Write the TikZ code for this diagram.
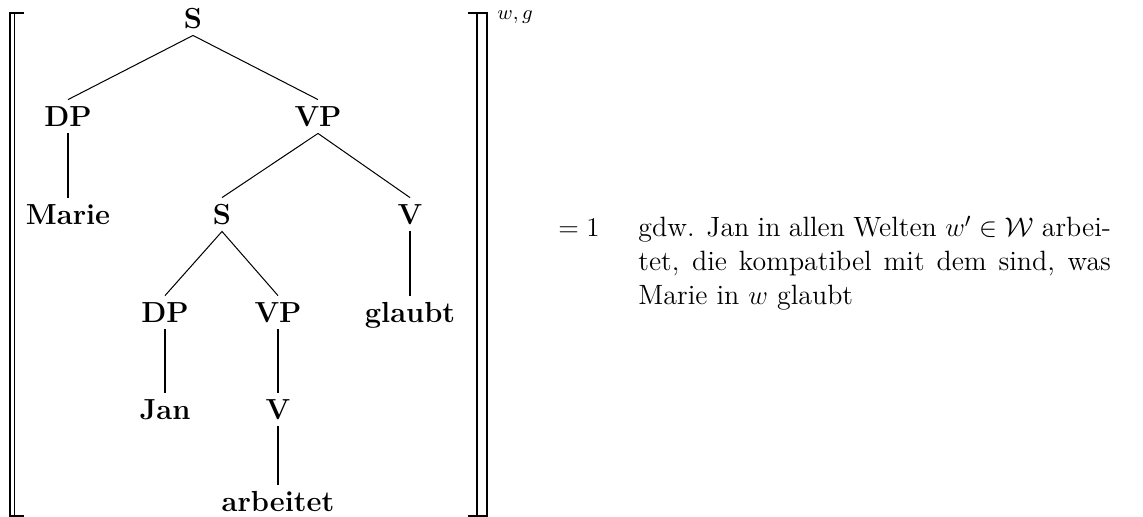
\documentclass[tikz,border=0pt]{standalone}
\usepackage{amsmath}
\begin{document}
\begin{tikzpicture}[x=0.4444pt,y=-0.4444pt,
  lbl/.style={font=\fontsize{12.9}{15}\selectfont\bfseries, inner xsep=0pt, inner ysep=2.67pt, text height=9.3pt, text depth=0pt, anchor=base},
  edge/.style={line width=0.45pt},
  brk/.style={line width=0.7pt},
  txtstyle/.style={font=\fontsize{12.4}{15}\selectfont, inner sep=0pt, anchor=base west}]
\useasboundingbox (0,0) rectangle (1143,517);
% tree nodes
\node[lbl] (s)   at (193,29)  {S};
\node[lbl] (dp)  at (68,127)  {DP};
\node[lbl] (vp)  at (318,127) {VP};
\node[lbl] (marie) at (68,225) {Marie};
\node[lbl] (s2)  at (222,225) {S};
\node[lbl] (v1)  at (410,225) {V};
\node[lbl] (dp2) at (165,323) {DP};
\node[lbl] (vp2) at (278,323) {VP};
\node[lbl] (glaubt) at (410,323) {glaubt};
\node[lbl] (jan) at (165,420) {Jan};
\node[lbl] (v2)  at (278,420) {V};
\node[lbl] (arb) at (278,512) {arbeitet};
% edges
\draw[edge] (dp.north) -- (s.south) -- (vp.north);
\draw[edge] (dp.south) -- (marie.north);
\draw[edge] (s2.north) -- (vp.south) -- (v1.north);
\draw[edge] (dp2.north) -- (s2.south) -- (vp2.north);
\draw[edge] (v1.south) -- (glaubt.north);
\draw[edge] (dp2.south) -- (jan.north);
\draw[edge] (vp2.south) -- (v2.north);
\draw[edge] (v2.south) -- (arb.north);
% brackets
\draw[brk] (24,13) -- (10,13) -- (10,516) -- (24,516);
\draw[brk] (14.5,13) -- (14.5,516);
\draw[brk] (468,13) -- (487,13) -- (487,516) -- (468,516);
\draw[brk] (477,13) -- (477,516);
\node[inner sep=0pt, anchor=base west, font=\fontsize{8.7}{10}\selectfont] (sup) at (497,20) {$w,g$};
% right-hand text
\node[txtstyle] (eq) at (558,237) {$=1$};
\node[txtstyle] (txt) at (638,237) {\parbox[t]{210pt}{gdw. Jan in allen Welten $w'\in\mathcal{W}$ arbei-\linebreak tet, die kompatibel mit dem sind, was\linebreak Marie in $w$ glaubt}};
\end{tikzpicture}
\end{document}
